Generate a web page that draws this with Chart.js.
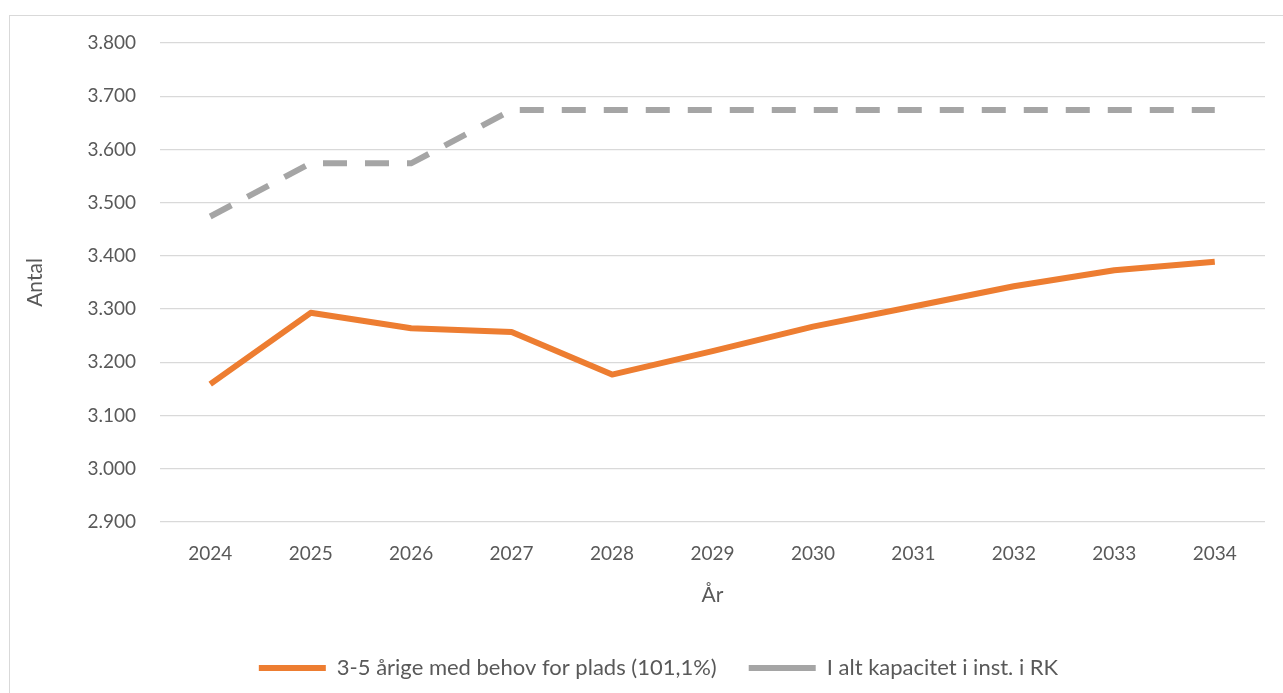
<!DOCTYPE html>
<html>
<head>
<meta charset="utf-8">
<script src="https://cdn.jsdelivr.net/npm/chart.js@4.4.1/dist/chart.umd.min.js"></script>
<style>
    html, body { margin: 0; padding: 0; background: #fff; overflow: hidden; }
    #frame { position: absolute; left: 9px; top: 15px; width: 2000px; height: 2000px; border: 1.5px solid #d9d9d9; }
    #wrap { position: absolute; left: 0; top: 0; width: 1283px; height: 693px; }
</style>
</head>
<body>
<div id="frame"></div>
<div id="wrap"><canvas id="chart" width="1283" height="693"></canvas></div>
<script>
// data
let years = ["2024", "2025", "2026", "2027", "2028", "2029", "2030", "2031", "2032", "2033", "2034"]
let behov = [3159, 3293, 3264, 3257, 3177, 3221, 3267, 3305, 3343, 3373, 3389]
let kapacitet = [3474, 3574, 3574, 3674, 3674, 3674, 3674, 3674, 3674, 3674, 3674]
let behovLabel = "3-5 årige med behov for plads (101,1%)"
let kapacitetLabel = "I alt kapacitet i inst. i RK"

let font = "Lato"
let textColor = "#595959"

function dkNumber(v) {
    return String(v).replace(/\B(?=(\d{3})+(?!\d))/g, ".")
}

let ctx = document.getElementById("chart")
let chart = new Chart(ctx, {
    type: 'line',
    data: {
        labels: years,
        datasets: [{
            label: behovLabel,
            data: behov,
            borderColor: '#ED7D31',
            backgroundColor: '#ED7D31',
            borderWidth: 6,
            pointRadius: 0,
            tension: 0,
            borderJoinStyle: 'round'
        }, {
            label: kapacitetLabel,
            data: kapacitet,
            borderColor: '#A5A5A5',
            backgroundColor: '#A5A5A5',
            borderWidth: 6,
            borderDash: [24, 18],
            pointRadius: 0,
            tension: 0
        }]
    },
    options: {
        responsive: false,
        animation: false,
        layout: {
            // left padding pushes the legend's centre to the right, y title pulled back with negative padding
            padding: { left: 52, right: 18, top: 43, bottom: 4 }
        },
        plugins: {
            tooltip: { enabled: false },
            legend: {
                position: 'bottom',
                labels: {
                    usePointStyle: true,
                    pointStyle: 'line',
                    pointStyleWidth: 67,
                    padding: 32,
                    color: textColor,
                    font: { family: font, size: 22 }
                }
            }
        },
        scales: {
            x: {
                offset: true,
                grid: { display: false },
                border: { display: false },
                ticks: {
                    color: textColor,
                    padding: 12,
                    font: { family: font, size: 19 }
                },
                title: {
                    display: true,
                    text: "År",
                    color: textColor,
                    padding: { top: 6, bottom: 17 },
                    font: { family: font, size: 21 }
                }
            },
            y: {
                min: 2900,
                max: 3800,
                grid: { color: '#d9d9d9', lineWidth: 1.3, drawTicks: false },
                border: { display: false },
                ticks: {
                    stepSize: 100,
                    color: textColor,
                    padding: 24,
                    font: { family: font, size: 19 },
                    callback: function (v) { return dkNumber(v) }
                },
                title: {
                    display: true,
                    text: "Antal",
                    color: textColor,
                    padding: { top: -29.6, bottom: 0 },
                    font: { family: font, size: 21 }
                },
                afterFit: function (scale) { scale.width = 108 }
            }
        }
    }
})
</script>
</body>
</html>
